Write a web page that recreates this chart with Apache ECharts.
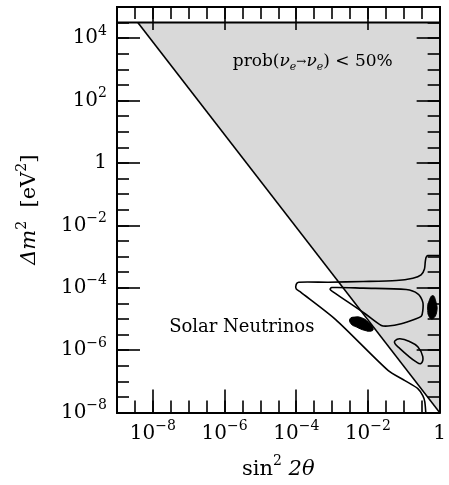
<!DOCTYPE html>
<html><head><meta charset="utf-8">
<script src="https://cdn.jsdelivr.net/npm/echarts@6/dist/echarts.min.js"></script>
<style>html,body{margin:0;padding:0;background:#fff}#c{width:449px;height:485px}</style>
</head><body><div id="c"></div>
<script>
// All positions are log10 values: x = log10(sin^2 2θ), y = log10(Δm^2 / eV^2)
const xRange = [-9, 0];
const yRange = [-8, 5];
const xMajorTicks = [-8, -6, -4, -2, 0];
const xMajorLabels = ['10^−8', '10^−6', '10^−4', '10^−2', '1'];
const xMinorTicks = [-8.5, -8, -7.5, -7, -6.5, -6, -5.5, -5, -4.5, -4, -3.5, -3, -2.5, -2, -1.5, -1, -0.5];
const yMajorTicks = [-8, -6, -4, -2, 0, 2, 4];
const yMajorLabels = ['10^−8', '10^−6', '10^−4', '10^−2', '1', '10^2', '10^4'];
const yMinorTicks = [-7.5, -7, -6.5, -6, -5.5, -5, -4.5, -4, -3.5, -3, -2.5, -2, -1.5, -1, -0.5, 0, 0.5, 1, 1.5, 2, 2.5, 3, 3.5, 4, 4.5];

// shaded region prob(νe→νe) < 50%
const shadeX = [-8.42, 0, 0];
const shadeY = [4.5, 4.5, -8];
// its border lines
const topLineX = [-9, 0];
const topLineY = [4.5, 4.5];
const diagX = [-8.42, 0];
const diagY = [4.5, -8];

// outer solar contour (open: right edge -> bottom edge)
const outerX = [0, -0.332, -0.379, -0.401, -0.423, -0.518, -0.747, -1.21, -2.132, -3.10, -3.932, -4.001, -4.001, -3.877, -2.90, -1.44, -0.969, -0.609, -0.47, -0.415, -0.387];
const outerY = [-2.971, -2.971, -3.029, -3.173, -3.396, -3.588, -3.694, -3.77, -3.802, -3.822, -3.822, -3.892, -4.036, -4.141, -5.02, -6.648, -6.977, -7.233, -7.457, -7.648, -8.0];

// inner solar contour (closed)
const innerX = [-3.010, -2.132, -0.933, -0.609, -0.47, -0.47, -0.512, -0.692, -1.071, -1.44, -1.626, -2.077, -2.963, -3.054];
const innerY = [-3.994, -4.013, -4.058, -4.196, -4.461, -4.739, -4.915, -5.011, -5.155, -5.228, -5.209, -4.835, -4.141, -4.058];

// small closed contour
const smallX = [-1.246, -1.107, -0.83, -0.609, -0.47, -0.526, -0.664, -0.886, -1.107, -1.246];
const smallY = [-5.698, -5.634, -5.730, -5.890, -6.210, -6.434, -6.370, -6.178, -5.954, -5.794];

// black best-fit islands
const blobAX = [-2.50, -2.362, -2.179, -1.994, -1.855, -1.902, -2.085, -2.318, -2.473];
const blobAY = [-4.995, -4.940, -4.963, -5.100, -5.315, -5.388, -5.369, -5.260, -5.155];
const blobBX = [-0.194, -0.102, -0.083, -0.194, -0.285, -0.332, -0.304];
const blobBY = [-4.250, -4.461, -4.781, -4.995, -4.940, -4.730, -4.461];

// annotations
const probLabelPos = [-3.54, 3.25];
const solarLabelPos = [-5.52, -5.28];

const FONT = 'DejaVu Serif';
const tickRich = {
  b: {fontFamily: FONT, fontSize: 20, lineHeight: 28, color: '#000'},
  s: {fontFamily: FONT, fontSize: 14, lineHeight: 12, verticalAlign: 'top', color: '#000'}
};
function fmt(ticks, labels) {
  return function (v) {
    let i = -1;
    ticks.forEach((t, k) => { if (Math.abs(t - v) < 1e-9) i = k; });
    if (i < 0) return '';
    const p = labels[i].split('^');
    return p.length > 1 ? '{b|' + p[0] + '}{s|' + p[1] + '}' : '{b|' + p[0] + '}';
  };
}
function axisCfg(dim, pos, ticks, len, withLabels, extra) {
  const r = dim === 'x' ? xRange : yRange;
  const c = {
    type: 'value', position: pos, min: r[0], max: r[1], z: 10,
    axisLine: {show: true, onZero: false, lineStyle: {color: '#000', width: 2}},
    axisTick: {show: true, inside: true, length: len, customValues: ticks, lineStyle: {color: '#000', width: 1.6}},
    axisLabel: {show: false},
    splitLine: {show: false}
  };
  if (withLabels) {
    const mt = dim === 'x' ? xMajorTicks : yMajorTicks;
    const ml = dim === 'x' ? xMajorLabels : yMajorLabels;
    c.axisLabel = {show: true, customValues: mt, formatter: fmt(mt, ml), rich: tickRich, margin: dim === 'x' ? 7 : 10};
  }
  return Object.assign(c, extra || {});
}

function shape(xs, ys, kind, style, smooth, z) {
  return {
    type: 'custom', coordinateSystem: 'cartesian2d', xAxisIndex: 0, yAxisIndex: 0,
    silent: true, animation: false, z: z, clip: true,
    data: [[xs[0], ys[0]]],
    renderItem: function (params, api) {
      const pts = xs.map((x, i) => api.coord([x, ys[i]]));
      return {type: kind, shape: {points: pts, smooth: smooth}, style: style};
    }
  };
}
function textItem(pos, text, rich, z) {
  return {
    type: 'custom', coordinateSystem: 'cartesian2d', xAxisIndex: 0, yAxisIndex: 0,
    silent: true, animation: false, z: z,
    data: [pos],
    renderItem: function (params, api) {
      const p = api.coord(pos);
      return {type: 'text', x: p[0], y: p[1], style: {text: text, rich: rich, align: 'center', verticalAlign: 'middle', fill: '#000'}};
    }
  };
}

const lineStyle = {fill: 'none', stroke: '#000', lineWidth: 1.6};
const titleRich = {
  r: {fontFamily: FONT, fontSize: 21, lineHeight: 30, color: '#000'},
  i: {fontFamily: FONT, fontSize: 21, lineHeight: 30, fontStyle: 'italic', color: '#000'},
  s: {fontFamily: FONT, fontSize: 14, lineHeight: 14, verticalAlign: 'top', color: '#000'}
};
const chart = echarts.init(document.getElementById('c'), null, {renderer: 'canvas'});
chart.setOption({
  backgroundColor: '#fff',
  animation: false,
  grid: {left: 117, right: 7, top: 7, bottom: 71, containLabel: false},
  xAxis: [
    axisCfg('x', 'bottom', xMinorTicks, 12, false, {
      name: '{r|sin}{s|2}{r| }{i|2θ}', nameLocation: 'middle', nameGap: 42,
      nameTextStyle: {rich: titleRich}
    }),
    axisCfg('x', 'bottom', xMajorTicks, 23, true),
    axisCfg('x', 'top', xMinorTicks, 12, false),
    axisCfg('x', 'top', xMajorTicks, 23, false)
  ],
  yAxis: [
    axisCfg('y', 'left', yMinorTicks, 12, false, {
      name: '{i|Δm}{s|2}{r|  [eV}{s|2}{r|]}', nameLocation: 'middle', nameGap: 72, nameRotate: 90,
      nameTextStyle: {rich: titleRich}
    }),
    axisCfg('y', 'left', yMajorTicks, 23, true),
    axisCfg('y', 'right', yMinorTicks, 12, false),
    axisCfg('y', 'right', yMajorTicks, 23, false)
  ],
  series: [
    shape(shadeX, shadeY, 'polygon', {fill: '#d9d9d9', stroke: 'none'}, 0, 1),
    shape(topLineX, topLineY, 'polyline', {fill: 'none', stroke: '#000', lineWidth: 2}, 0, 3),
    shape(diagX, diagY, 'polyline', lineStyle, 0, 3),
    shape(outerX, outerY, 'polyline', lineStyle, 0.25, 3),
    shape(innerX, innerY, 'polygon', lineStyle, 0.3, 3),
    shape(smallX, smallY, 'polygon', lineStyle, 0.4, 3),
    shape(blobAX, blobAY, 'polygon', {fill: '#000', stroke: '#000', lineWidth: 1}, 0.5, 4),
    shape(blobBX, blobBY, 'polygon', {fill: '#000', stroke: '#000', lineWidth: 1}, 0.5, 4),
    textItem(probLabelPos, '{r|prob(}{i|ν}{u|e}{a|→}{i|ν}{u|e}{r|) < 50%}', {
      r: {fontFamily: FONT, fontSize: 17, lineHeight: 22, color: '#000'},
      i: {fontFamily: FONT, fontSize: 17, lineHeight: 22, fontStyle: 'italic', color: '#000'},
      a: {fontFamily: FONT, fontSize: 12, lineHeight: 22, color: '#000'},
      u: {fontFamily: FONT, fontSize: 11, lineHeight: 11, verticalAlign: 'bottom', fontStyle: 'italic', color: '#000'}
    }, 5),
    textItem(solarLabelPos, '{r|Solar Neutrinos}', {
      r: {fontFamily: FONT, fontSize: 18, lineHeight: 22, color: '#000'}
    }, 5)
  ]
});
</script></body></html>
